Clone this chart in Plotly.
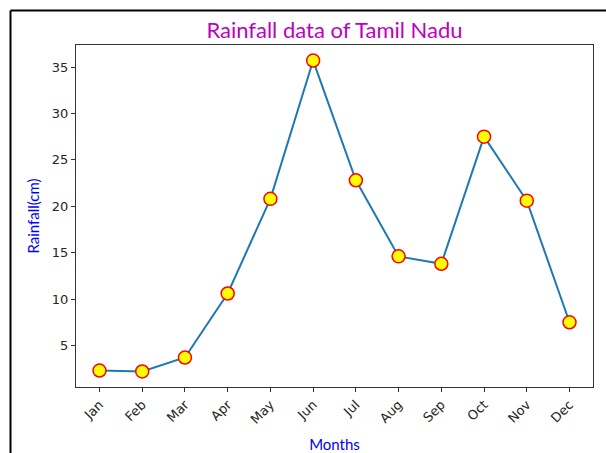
import plotly.graph_objects as go

# Monthly rainfall for Tamil Nadu (cm)
months = ["Jan", "Feb", "Mar", "Apr", "May", "Jun",
          "Jul", "Aug", "Sep", "Oct", "Nov", "Dec"]
rainfall = [2.3, 2.2, 3.7, 10.6, 20.8, 35.7, 22.8, 14.6, 13.8, 27.5, 20.6, 7.5]
y_ticks = [5, 10, 15, 20, 25, 30, 35]

W, H = 606, 453
L, R, T, B = 76, 13, 45, 66

# 5% padding around the data, like a default axes autoscale
lo, hi = min(rainfall), max(rainfall)
pad = 0.05 * (hi - lo)
n = len(months)

fig = go.Figure()
fig.add_trace(go.Scatter(
    x=list(range(n)), y=rainfall, mode="lines+markers",
    line=dict(color="#1f77b4", width=2),
    marker=dict(size=13, color="yellow", line=dict(color="red", width=1.5)),
    showlegend=False,
))

axis_common = dict(
    showgrid=False, zeroline=False, showline=True, mirror=True,
    linecolor="#333", linewidth=1, ticks="outside", ticklen=4,
    tickcolor="#333", tickfont=dict(family="DejaVu Sans", size=13, color="#262626"),
    automargin=False,
)

fig.update_xaxes(
    range=[-0.05 * (n - 1), (n - 1) * 1.05],
    tickmode="array", tickvals=list(range(n)), ticktext=months,
    tickangle=-45,
    title=dict(text="Months", font=dict(family="Lato", size=15, color="blue"), standoff=16),
    **axis_common,
)
fig.update_yaxes(
    range=[lo - pad, hi + pad],
    tickmode="array", tickvals=y_ticks,
    title=dict(text="Rainfall(cm)", font=dict(family="Lato", size=15, color="blue"), standoff=8),
    **axis_common,
)

# Outer frame: left and top edges of the canvas border
def px_to_paper_x(px):
    return (px - L) / (W - L - R)

def px_to_paper_y(py):
    return (H - B - py) / (H - T - B)

fig.add_shape(type="line", xref="paper", yref="paper",
              x0=px_to_paper_x(10.5), y0=px_to_paper_y(H + 2),
              x1=px_to_paper_x(10.5), y1=px_to_paper_y(10.5),
              line=dict(color="black", width=2))
fig.add_shape(type="line", xref="paper", yref="paper",
              x0=px_to_paper_x(10.5), y0=px_to_paper_y(10.5),
              x1=px_to_paper_x(W + 2), y1=px_to_paper_y(10.5),
              line=dict(color="black", width=2))

fig.update_layout(
    width=W, height=H,
    margin=dict(l=L, r=R, t=T, b=B),
    paper_bgcolor="white", plot_bgcolor="white",
    title=dict(text="Rainfall data of Tamil Nadu",
               font=dict(family="Lato", size=22, color="#bf00bf"),
               x=px_to_paper_x(334.5), xref="paper", xanchor="center",
               y=1 - 30 / H, yanchor="middle"),
)

fig.write_html("out.html")
